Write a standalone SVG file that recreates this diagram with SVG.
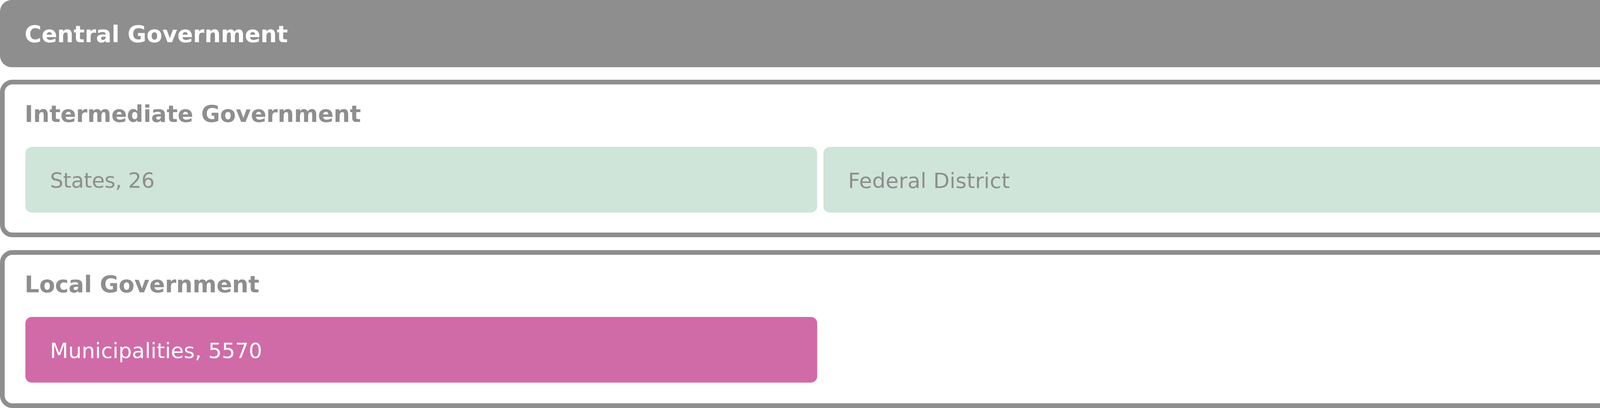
<svg xmlns="http://www.w3.org/2000/svg" width="4200" height="1044" viewBox="0 0 4200 1044">
<style>
.head{fill:#8e8e8e}
.frame{fill:#ffffff;stroke:#8e8e8e;stroke-width:12}
.green{fill:#cfe5da}
.pink{fill:#d06ba8}
.tb{font-family:"DejaVu Sans","Liberation Sans",Arial,sans-serif;font-weight:700;font-size:59px}
.tr{font-family:"DejaVu Sans","Liberation Sans",Arial,sans-serif;font-weight:400;font-size:54px}
.w{fill:#ffffff}
.g{fill:#8e8e8e}
</style>
<rect x="0" y="0" width="4200" height="1044" fill="#ffffff"/>
<g id="central">
<rect class="head" x="0" y="0" width="4200" height="172" rx="30" ry="30"/>
<text class="tb w" x="63" y="108" textLength="674" lengthAdjust="spacing">Central Government</text>
</g>
<g id="intermediate">
<rect class="frame" x="6" y="210" width="4188" height="391" rx="26" ry="26"/>
<text class="tb g" x="63" y="312" textLength="861" lengthAdjust="spacing">Intermediate Government</text>
</g>
<g id="states">
<rect class="green" x="65" y="376" width="2027" height="168" rx="16" ry="16"/>
<text class="tr g" x="128" y="480" textLength="268" lengthAdjust="spacing">States, 26</text>
</g>
<g id="federal-district">
<rect class="green" x="2108" y="376" width="2028" height="168" rx="16" ry="16"/>
<text class="tr g" x="2171" y="481" textLength="414" lengthAdjust="spacing">Federal District</text>
</g>
<g id="local">
<rect class="frame" x="6" y="646" width="4188" height="392" rx="26" ry="26"/>
<text class="tb g" x="63" y="748" textLength="601" lengthAdjust="spacing">Local Government</text>
</g>
<g id="municipalities">
<rect class="pink" x="65" y="811" width="2027" height="168" rx="16" ry="16"/>
<text class="tr w" x="128" y="916" textLength="543" lengthAdjust="spacing">Municipalities, 5570</text>
</g>
<g id="connectors"></g>
</svg>
